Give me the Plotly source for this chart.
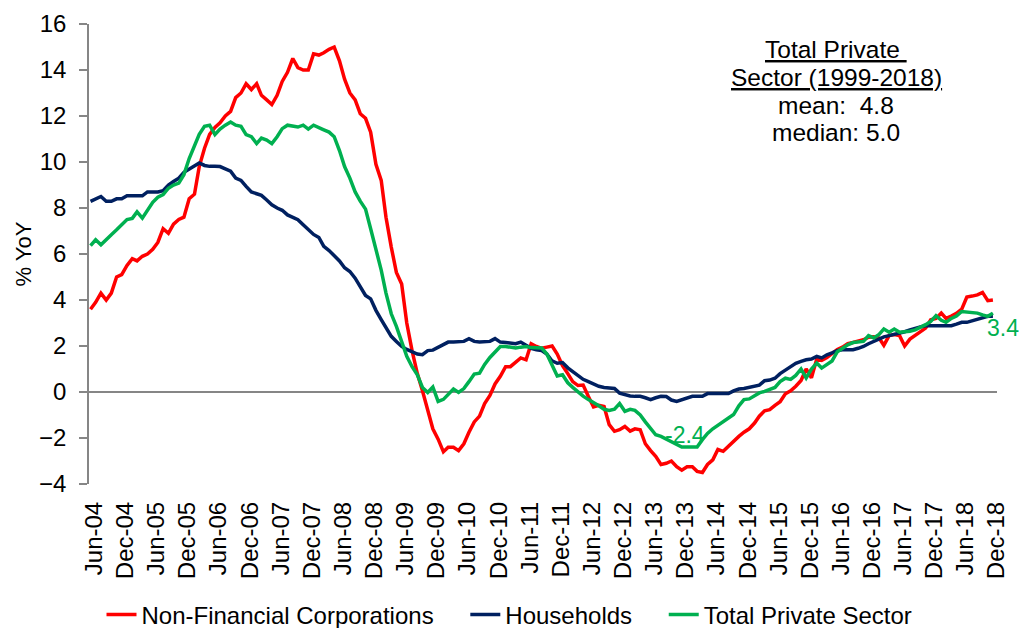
import pandas as pd
import plotly.graph_objects as go

months = pd.date_range("2004-06-01", "2018-12-01", freq="MS")

nfc = [3.6, 3.9, 4.3, 4.0, 4.3, 5.0, 5.1, 5.5, 5.8, 5.7, 5.9, 6.0, 6.2, 6.5, 7.1, 6.9, 7.3, 7.5, 7.6, 8.4,
       8.6, 9.8, 10.6, 11.2, 11.5, 11.7, 12.0, 12.2, 12.8, 13.0, 13.4, 13.15, 13.4, 12.9, 12.7, 12.5, 12.9, 13.5, 13.9, 14.5,
       14.1, 14.0, 14.0, 14.7, 14.65, 14.75, 14.9, 15.0, 14.4, 13.6, 13.0, 12.7, 12.1, 11.9, 11.3, 9.9, 9.2, 7.6, 6.3, 5.2,
       4.7, 3.0, 1.8, 0.8, 0.05, -0.85, -1.6, -2.05, -2.6, -2.4, -2.4, -2.55, -2.25, -1.75, -1.3, -1.05, -0.5, -0.15, 0.35, 0.68,
       1.1, 1.1, 1.3, 1.48, 1.4, 2.1, 1.98, 1.9, 1.95, 2.0, 1.65, 1.15, 0.8, 0.45, 0.28, 0.3, -0.2, -0.65, -0.58, -0.63,
       -1.42, -1.71, -1.64, -1.5, -1.7, -1.6, -1.64, -2.25, -2.55, -2.8, -3.15, -3.1, -3.0, -3.25, -3.4, -3.25, -3.25, -3.45, -3.5, -3.15,
       -2.95, -2.5, -2.58, -2.35, -2.15, -1.93, -1.75, -1.6, -1.35, -1.05, -0.82, -0.77, -0.58, -0.42, -0.08, 0.05, 0.25, 0.5, 1.0, 0.62,
       1.43, 1.37, 1.5, 1.65, 1.85, 1.95, 2.1, 2.15, 2.2, 2.27, 2.38, 2.4, 2.35, 2.03, 2.45, 2.5, 2.45, 2.0, 2.3, 2.45,
       2.6, 2.78, 3.14, 3.2, 3.43, 3.2, 3.3, 3.42, 3.6, 4.13, 4.17, 4.22, 4.33, 3.97, 4.0]

households = [8.29, 8.4, 8.5, 8.29, 8.29, 8.4, 8.4, 8.53, 8.53, 8.53, 8.53, 8.7, 8.7, 8.7, 8.75, 9.0, 9.15, 9.3, 9.55, 9.7,
              9.85, 9.96, 9.85, 9.81, 9.81, 9.8, 9.7, 9.6, 9.3, 9.2, 8.94, 8.7, 8.62, 8.55, 8.35, 8.14, 8.0, 7.9, 7.7, 7.58,
              7.49, 7.27, 7.05, 6.85, 6.72, 6.33, 6.15, 5.95, 5.7, 5.4, 5.24, 4.95, 4.55, 4.2, 4.05, 3.55, 3.15, 2.8, 2.42, 2.2,
              1.98, 1.85, 1.75, 1.65, 1.62, 1.8, 1.82, 1.95, 2.05, 2.17, 2.17, 2.17, 2.2, 2.32, 2.2, 2.17, 2.17, 2.2, 2.32, 2.17,
              2.15, 2.12, 2.1, 2.17, 2.05, 1.9, 1.84, 1.8, 1.65, 1.35, 1.25, 1.28, 1.05, 0.9, 0.7, 0.55, 0.45, 0.36, 0.25, 0.2,
              0.17, 0.15, -0.05, -0.12, -0.17, -0.19, -0.19, -0.25, -0.33, -0.25, -0.19, -0.2, -0.35, -0.41, -0.35, -0.28, -0.19, -0.19, -0.19, -0.07,
              -0.07, -0.07, -0.07, -0.07, 0.05, 0.13, 0.15, 0.2, 0.22, 0.3, 0.49, 0.52, 0.6, 0.8, 0.95, 1.1, 1.25, 1.33, 1.4, 1.43,
              1.55, 1.48, 1.62, 1.7, 1.8, 1.84, 1.84, 1.84, 1.9, 1.98, 2.1, 2.2, 2.3, 2.4, 2.45, 2.5, 2.55, 2.62, 2.7, 2.78,
              2.83, 2.88, 2.88, 2.88, 2.88, 2.88, 2.88, 2.95, 3.03, 3.03, 3.1, 3.17, 3.25, 3.29, 3.29]

total_private = [6.36, 6.62, 6.4, 6.6, 6.84, 7.05, 7.27, 7.5, 7.55, 7.83, 7.56, 7.9, 8.25, 8.47, 8.58, 8.86, 9.0, 9.08, 9.45, 10.15,
                 10.75, 11.2, 11.55, 11.6, 11.19, 11.43, 11.6, 11.74, 11.6, 11.55, 11.19, 11.1, 10.8, 11.04, 10.95, 10.8, 11.1, 11.45, 11.6, 11.55,
                 11.52, 11.6, 11.43, 11.6, 11.48, 11.4, 11.3, 11.1, 10.5, 9.8, 9.3, 8.7, 8.3, 7.95, 7.1, 6.2, 5.3, 4.3, 3.4, 2.85,
                 2.2, 1.55, 1.1, 0.75, 0.2, -0.02, 0.22, -0.41, -0.32, -0.1, 0.13, -0.02, 0.15, 0.45, 0.78, 0.82, 1.2, 1.5, 1.75, 1.98,
                 1.98, 1.95, 1.91, 1.95, 1.98, 1.93, 1.91, 1.91, 1.65, 1.15, 0.7, 0.75, 0.4, 0.2, 0.0, -0.18, -0.33, -0.45, -0.6, -0.75,
                 -0.8, -0.75, -0.5, -0.84, -0.75, -0.8, -1.0, -1.3, -1.6, -1.86, -1.93, -2.05, -2.15, -2.3, -2.39, -2.39, -2.39, -2.39, -2.07, -1.8,
                 -1.6, -1.45, -1.3, -1.15, -0.98, -0.6, -0.33, -0.3, -0.15, -0.04, 0.03, 0.1, 0.2, 0.45, 0.6, 0.55, 0.72, 1.0, 0.61, 1.0,
                 1.26, 1.04, 1.2, 1.35, 1.75, 1.9, 2.05, 2.15, 2.18, 2.2, 2.45, 2.35, 2.5, 2.74, 2.6, 2.74, 2.6, 2.62, 2.64, 2.7,
                 2.8, 2.93, 3.07, 3.32, 3.12, 3.03, 3.2, 3.3, 3.5, 3.48, 3.46, 3.43, 3.35, 3.29, 3.43]

series_names = ["Non-Financial Corporations", "Households", "Total Private Sector"]
series_colors = ["#FF0000", "#002060", "#00B050"]
tick_dates = pd.date_range("2004-06-01", "2018-12-01", freq="6MS")
tick_labels = [d.strftime("%b-%y") for d in tick_dates]
y_ticks = [-4, -2, 0, 2, 4, 6, 8, 10, 12, 14, 16]
box_lines = ["<u>Total Private </u>", "<u>Sector (1999-2018)</u>", "mean:  4.8", "median: 5.0"]
min_label = "-2.4"
last_label = "3.4"

FONT = "Liberation Sans, Arial, sans-serif"
PAD = "\u00a0" * 4  # invisible padding to widen gaps between legend entries
LABEL_OFFSET = pd.Timedelta(days=22)  # visual nudge of the tick labels

fig = go.Figure()
for i, (name, vals, col) in enumerate(zip(series_names, [nfc, households, total_private], series_colors)):
    legend_name = name + (PAD if i < len(series_names) - 1 else "")
    fig.add_trace(go.Scatter(x=months, y=vals, mode="lines", name=legend_name,
                             line=dict(color=col, width=3.5), hovertemplate=name + ": %{y:.1f}<extra></extra>"))

fig.update_layout(
    width=1019, height=628,
    margin=dict(l=89, r=22, t=24, b=144, autoexpand=False),
    paper_bgcolor="white", plot_bgcolor="white",
    font=dict(family=FONT, size=24, color="black"),
    showlegend=True,
    legend=dict(orientation="h", xref="container", yref="container", x=0.5, xanchor="center",
                y=0.021, yanchor="middle", font=dict(size=24), itemwidth=30,
                traceorder="normal", bgcolor="rgba(0,0,0,0)"),
    xaxis=dict(
        range=[months[0] - pd.Timedelta(days=9), months[-1] + pd.Timedelta(days=24)],
        tickvals=[d + LABEL_OFFSET for d in tick_dates], ticktext=tick_labels, tickangle=-90,
        showgrid=False, zeroline=False, showline=False, ticks="",
        tickfont=dict(size=24), ticklabelstandoff=12,
    ),
    yaxis=dict(
        range=[-4, 16], tickvals=y_ticks, showgrid=False,
        zeroline=True, zerolinecolor="#868686", zerolinewidth=1.5,
        showline=True, linecolor="#868686", linewidth=1.5,
        ticks="outside", ticklen=8, tickcolor="#868686", tickwidth=1.5,
        tickfont=dict(size=24), ticklabelstandoff=8,
        title=dict(text="% YoY", font=dict(size=22), standoff=1),
    ),
)

box_y = [0.944, 0.884, 0.822, 0.764]
for txt, yy in zip(box_lines, box_y):
    fig.add_annotation(text=txt, xref="paper", yref="paper", x=0.823, y=yy,
                       xanchor="center", yanchor="middle", showarrow=False,
                       font=dict(size=24.5, color="black", family=FONT))

fig.add_annotation(text=min_label, x=months[118], y=-2.4, xanchor="right", yanchor="middle",
                   xshift=5, yshift=12, showarrow=False, font=dict(size=23, color="#00B050", family=FONT))
fig.add_annotation(text=last_label, x=months[-1], y=total_private[-1], xanchor="left", yanchor="middle",
                   xshift=-8, yshift=-15, showarrow=False, font=dict(size=23, color="#00B050", family=FONT))

fig.write_html("out.html", config={"displayModeBar": False},
               post_script="document.body.style.margin='0';")
